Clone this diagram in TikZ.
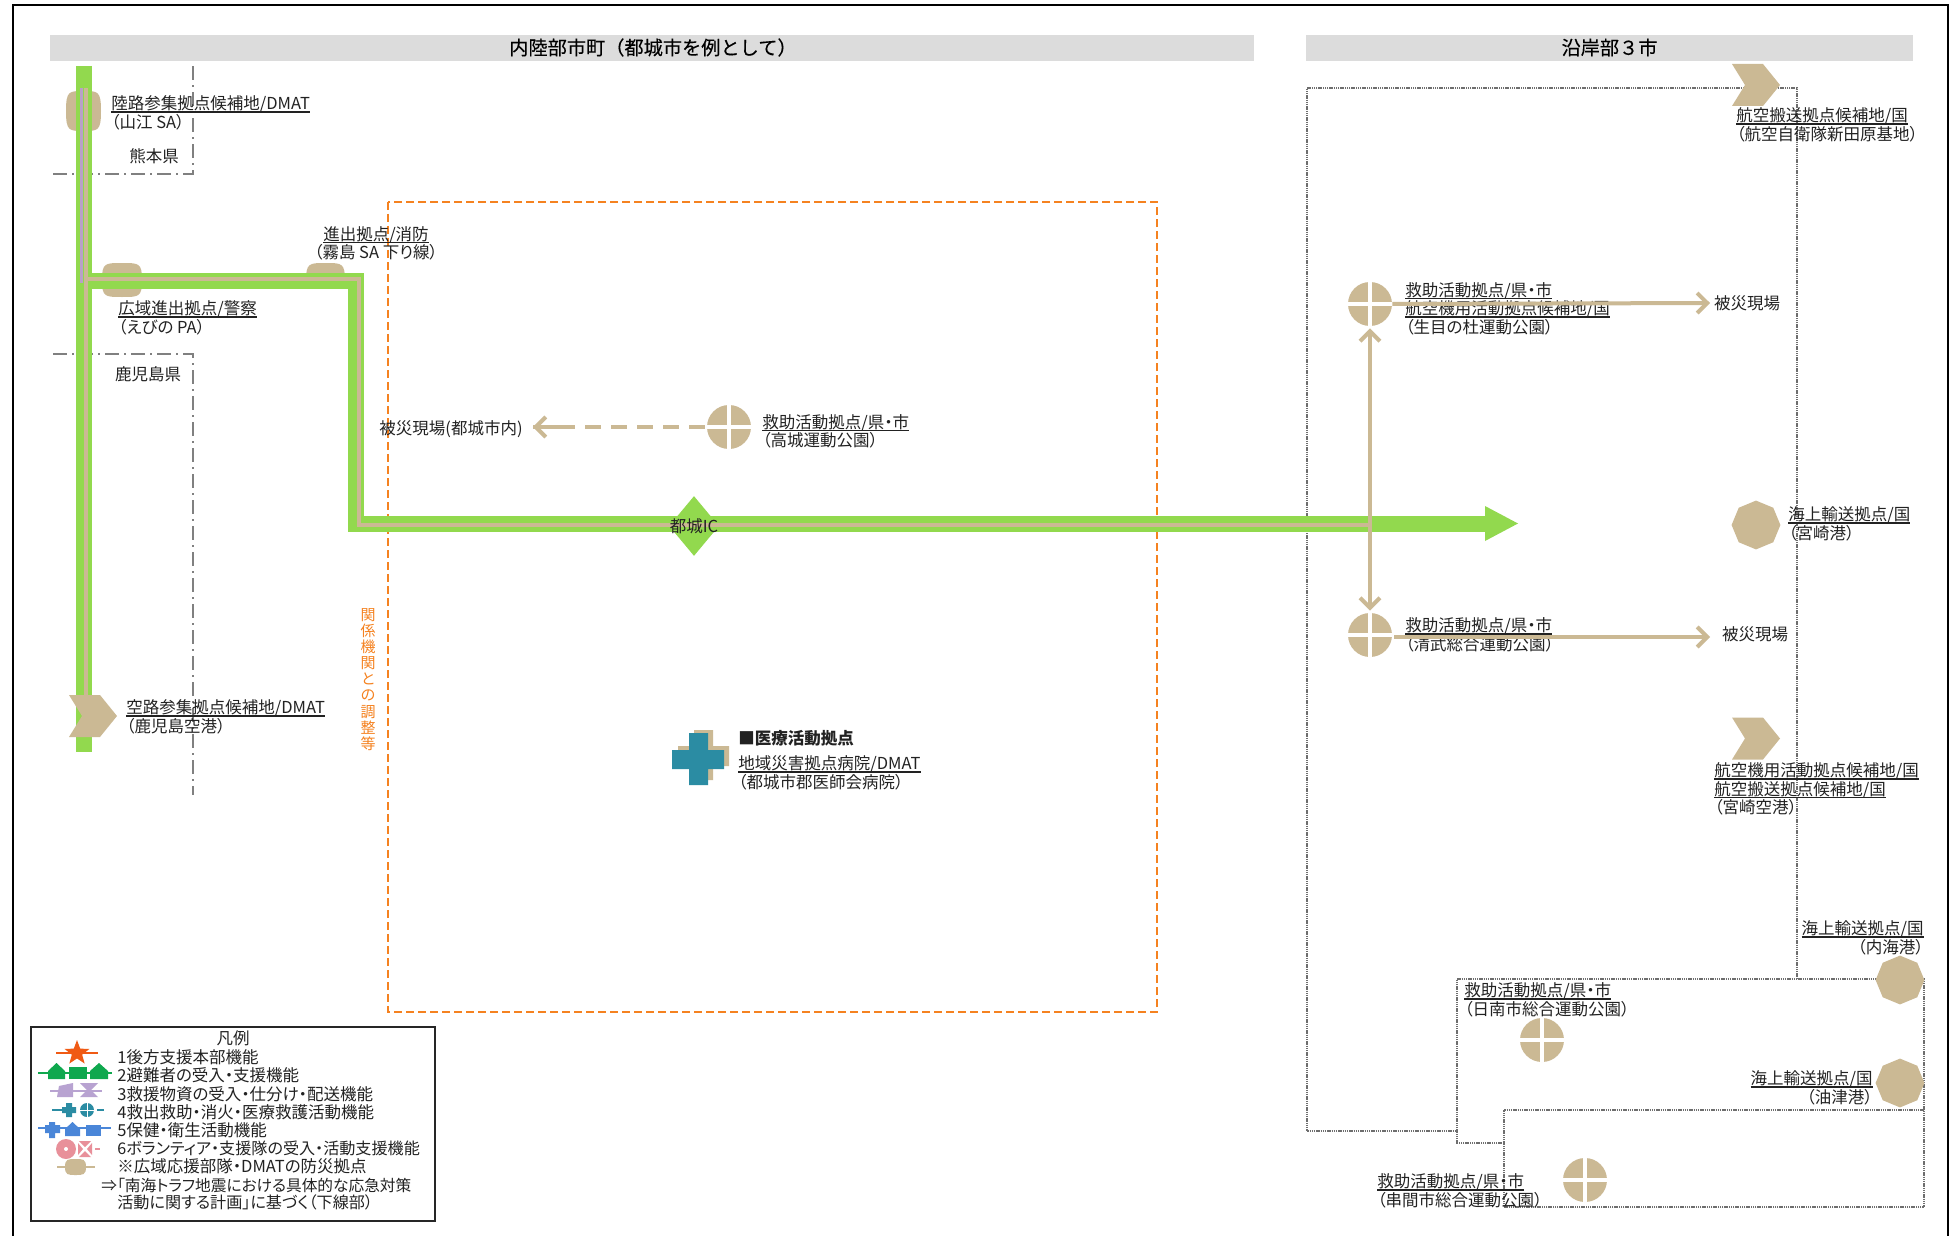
\documentclass[tikz,border=0pt]{standalone}
\usepackage{fontspec}
\setmainfont[RawFeature=+palt]{Noto Sans CJK JP}
\newfontfamily\headf[FakeBold=0.2]{Noto Sans CJK JP}
\usetikzlibrary{arrows.meta,shapes.geometric}
\definecolor{tanc}{HTML}{CBB994}
\definecolor{roadg}{HTML}{92D94E}
\definecolor{purp}{HTML}{B8A0C8}
\definecolor{bargray}{HTML}{DCDCDC}
\definecolor{orangeb}{HTML}{F58220}
\definecolor{linegray}{HTML}{808080}
\definecolor{dotgray}{HTML}{6E6E6E}
\definecolor{txt}{HTML}{222222}
\definecolor{tealc}{HTML}{2B8CA3}
\definecolor{greenl}{HTML}{0FA84E}
\definecolor{purpl}{HTML}{B8A3D1}
\definecolor{bluel}{HTML}{4A86D8}
\definecolor{pinkl}{HTML}{E8909A}
\definecolor{oranl}{HTML}{F05A14}
\newcommand\ulx[1]{\setbox0\hbox{#1}\leavevmode\rlap{\rule[-1.5pt]{\wd0}{0.75pt}}\box0}
\newcommand\labfont{\fontsize{8.25}{9.25}\selectfont\color{txt}}
\newcommand\chev[2]{\fill[tanc] (#1-24,#2-21) -- (#1+7,#2-21) -- (#1+24,#2) -- (#1+7,#2+21) -- (#1-24,#2+21) -- (#1-11,#2) -- cycle;}
\newcommand\caps[4]{\fill[tanc] (#1,#2/2+#4/2) .. controls (#1,#2) and (#1+3,#2) .. (#1/2+#3/2,#2) .. controls (#3-3,#2) and (#3,#2) .. (#3,#2/2+#4/2) .. controls (#3,#4) and (#3-3,#4) .. (#1/2+#3/2,#4) .. controls (#1+3,#4) and (#1,#4) .. cycle;}
\tikzset{
  x=0.5pt,y=-0.5pt,
  lab/.style={inner sep=0pt,align=left,anchor=west,font=\labfont},
  labr/.style={inner sep=0pt,align=right,anchor=east,font=\labfont},
  plain/.style={inner sep=0pt,font=\labfont},
  legt/.style={inner sep=0pt,anchor=west,font=\fontsize{8.25}{9}\selectfont\color{txt}},
  head/.style={inner sep=0pt,font=\headf\fontsize{9.6}{11}\selectfont\color{black}},
  crossc/.style={circle,fill=tanc,draw=none,minimum size=22pt,inner sep=0pt,
    path picture={\draw[white,line width=2pt]
      (path picture bounding box.north)--(path picture bounding box.south)
      (path picture bounding box.west)--(path picture bounding box.east);}},
  octa/.style={regular polygon,regular polygon sides=8,shape border rotate=22.5,fill=tanc,minimum size=24.4pt,inner sep=0pt},
  road/.style={draw=roadg,line width=8pt,line join=miter},
  tanline/.style={draw=tanc,line width=2pt,line join=miter},
  barb/.style={draw=tanc,line width=2pt,-{Straight Barb[length=5pt,width=10pt,line width=2pt]}},
  barbb/.style={draw=tanc,line width=2pt,{Straight Barb[length=5pt,width=10pt,line width=2pt]}-{Straight Barb[length=5pt,width=10pt,line width=2pt]}},
  bound/.style={draw=linegray,line width=.8pt,dash pattern=on 7pt off 2.5pt on 1pt off 2.5pt},
  dotl/.style={draw=dotgray,line width=1pt,dash pattern=on .7pt off .4pt},
}
\begin{document}
\begin{tikzpicture}
\useasboundingbox (0,0) rectangle (1951,1236);
\fill[white] (0,0) rectangle (1951,1236);
% frame
\draw[black,line width=.8pt] (13,1236) -- (13,5) -- (1948,5) -- (1948,1236);
% headers
\fill[bargray] (50,35) rectangle (1254,61.5);
\fill[bargray] (1306,35) rectangle (1913,61.5);
\node[head] (h1) at (653,47.5) {内陸部市町（都城市を例として）};
\node[head] (h2) at (1609.5,47.5) {沿岸部３市};
% prefecture boundaries
\draw[bound] (53,174) -- (193,174) -- (193,66);
\draw[bound] (53,354) -- (193,354) -- (193,795);
% orange box
\draw[orangeb,line width=1pt,dash pattern=on 4pt off 2pt] (388,202) rectangle (1157,1012);
\node[inner sep=0pt,align=center,font=\fontsize{7.5}{8.05}\selectfont\color{orangeb}] (orangetxt) at (368,679.5) {関\\係\\機\\関\\と\\の\\調\\整\\等};
% dotted coastal outlines
\draw[dotl] (1797,979) -- (1797,88) -- (1307,88) -- (1307,1131) -- (1457,1131);
\draw[dotl] (1504,1143) -- (1457,1143) -- (1457,979) -- (1924,979) -- (1924,1207) -- (1504,1207) -- (1504,1110) -- (1924,1110);
% capsules
\caps{66}{91}{101}{131}
\caps{102}{263}{142}{297}
\fill[tanc] (306,281) .. controls (306,263) and (309,263) .. (325.5,263) .. controls (342,263) and (345,263) .. (345,281) -- cycle;
% road coordinates
\coordinate (rtop) at (83.5,66);
\coordinate (rbot) at (83.5,752);
\coordinate (bjoin) at (76,281);
\coordinate (bend1) at (356,281);
\coordinate (bend2) at (356,524);
\coordinate (rend) at (1486,524);
% road
\draw[road] (rtop) -- (rbot);
\draw[road] (bjoin) -- (bend1) -- (bend2) -- (rend);
\fill[roadg] (1485,506) -- (1518,523.5) -- (1485,541) -- cycle;
\node[diamond,fill=roadg,minimum width=25pt,minimum height=30pt,inner sep=0pt,aspect=.83] (ic) at (694,526) {};
% tan and purple centre lines
\coordinate (t1) at (85.5,88);
\coordinate (t2) at (85.5,700);
\coordinate (t3) at (85.5,278.5);
\coordinate (t4) at (359,278.5);
\coordinate (t5) at (359,525);
\coordinate (t6) at (1370,525);
\draw[tanline] (t1) -- (t2);
\draw[tanline] (t3) -- (t4) -- (t5) -- (t6);
\draw[draw=purp,line width=1.75pt] (81.7,88) -- (81.7,283);
% IC label
\node[plain] (iclab) at (694,526) {都城IC};
% chevrons
\chev{93}{716}
\chev{1756}{85}
\chev{1756}{738.5}
% left labels
\node[lab] (l1) at (111,113) {\ulx{陸路参集拠点候補地/DMAT}\\（山江 SA）};
\node[plain] (kuma) at (154,156) {熊本県};
\node[inner sep=0pt,align=center,font=\labfont] (l2) at (376,243.5) {\ulx{進出拠点/消防}\\（霧島 SA 下り線）};
\node[lab] (l3) at (118,318) {\ulx{広域進出拠点/警察}\\（えびの PA）};
\node[plain] (kago) at (148,374) {鹿児島県};
\node[lab] (l4) at (126,717) {\ulx{空路参集拠点候補地/DMAT}\\（鹿児島空港）};
% Takajo
\node[crossc] (c1) at (729,427) {};
\node[lab] (l5) at (762,431.5) {\ulx{救助活動拠点/県・市}\\（高城運動公園）};
\node[plain] (s1) at (451,429) {被災現場(都城市内)};
\coordinate (s1a) at ([xshift=5pt]s1.east |- c1.west);
\coordinate (s1b) at ([xshift=21pt]s1.east |- c1.west);
\draw[draw=tanc,line width=2pt,dash pattern=on 8pt off 5pt,shorten <=1pt] (c1.west) -- (s1a);
\draw[draw=tanc,line width=2pt,-{Straight Barb[length=5pt,width=10pt,line width=2pt]}] (s1b) -- (s1a);
% medical
\fill[tanc] (694,730) -- (713,730) -- (713,746) -- (729,746) -- (729,766) -- (713,766) -- (713,780) -- (694,780) -- (694,766) -- (678,766) -- (678,746) -- (694,746) -- cycle;
\fill[tealc] (689,733) -- (708,733) -- (708,750) -- (724,750) -- (724,769) -- (708,769) -- (708,785) -- (689,785) -- (689,769) -- (672,769) -- (672,750) -- (689,750) -- cycle;
\node[lab,font=\fontsize{8.25}{9.25}\selectfont\bfseries\color{txt}] (m0) at (738,738) {■医療活動拠点};
\node[lab] (m1) at (738,773) {\ulx{地域災害拠点病院/DMAT}\\（都城市郡医師会病院）};
% coast nodes
\node[crossc] (c2) at (1370,304) {};
\node[crossc] (c3) at (1370,635) {};
\node[lab] (l6) at (1405,308.5) {\ulx{救助活動拠点/県・市}\\\ulx{航空機用活動拠点候補地/国}\\（生目の杜運動公園）};
\node[lab] (l7) at (1405,635) {\ulx{救助活動拠点/県・市}\\（清武総合運動公園）};
\node[plain] (s2) at (1747,303) {被災現場};
\node[plain] (s3) at (1755,634) {被災現場};
\coordinate (a2) at (1710,303);
\coordinate (a3) at (1710,637);
\coordinate (b3) at (1394,637);
\draw[barb] (c2.east) -- (a2);
\draw[barb] (b3) -- (a3);
\draw[barbb] ([yshift=-1pt]c2.south) -- ([yshift=1pt]c3.north);
\node[lab] (l8) at (1736,125) {\ulx{航空搬送拠点候補地/国}\\（航空自衛隊新田原基地）};
\node[octa] (o1) at (1756,525) {};
\node[lab] (l9) at (1788,524) {\ulx{海上輸送拠点/国}\\（宮崎港）};
\node[lab] (l10) at (1714,789) {\ulx{航空機用活動拠点候補地/国}\\\ulx{航空搬送拠点候補地/国}\\（宮崎空港）};
\node[labr] (l11) at (1924,938) {\ulx{海上輸送拠点/国}\\（内海港）};
\node[octa] (o2) at (1900,980) {};
\node[lab] (l12) at (1464,1000) {\ulx{救助活動拠点/県・市}\\（日南市総合運動公園）};
\node[crossc] (c4) at (1542,1040) {};
\node[labr] (l13) at (1873,1088) {\ulx{海上輸送拠点/国}\\（油津港）};
\node[octa] (o3) at (1900,1083) {};
\node[lab] (l14) at (1377,1191) {\ulx{救助活動拠点/県・市}\\（串間市総合運動公園）};
\node[crossc] (c5) at (1585,1180) {};
% legend
\draw[draw=black!85,line width=1pt,fill=white] (31,1027) rectangle (435,1221);
\node[legt,anchor=center] (lg0) at (233,1038) {凡例};
\node[legt] (lg1) at (117,1057) {1後方支援本部機能};
\node[legt] (lg2) at (117,1075) {2避難者の受入・支援機能};
\node[legt] (lg3) at (117,1094) {3救援物資の受入・仕分け・配送機能};
\node[legt] (lg4) at (117,1112) {4救出救助・消火・医療救護活動機能};
\node[legt] (lg5) at (117,1130) {5保健・衛生活動機能};
\node[legt,font=\fontsize{8.05}{9}\selectfont\color{txt}] (lg6) at (117,1148) {6ボランティア・支援隊の受入・活動支援機能};
\node[legt] (lg7) at (117,1166) {※広域応援部隊・DMATの防災拠点};
\node[legt,font=\fontsize{7.85}{9}\selectfont\color{txt}] (lg8) at (101,1185) {⇒「南海トラフ地震における具体的な応急対策};
\node[legt,font=\fontsize{8.05}{9}\selectfont\color{txt}] (lg9) at (117,1202) {活動に関する計画」に基づく（下線部）};
% legend icons
\draw[oranl,line width=1pt] (56,1053) -- (98,1053);
\node[star,star points=5,star point ratio=2.4,fill=oranl,minimum size=13pt,inner sep=0pt] (ic1) at (77,1053) {};
\draw[greenl,line width=1pt] (38,1073) -- (112,1073);
\fill[greenl] (48,1071) -- (56.5,1063) -- (65,1071) -- (65,1079) -- (48,1079) -- cycle;
\fill[greenl] (69,1067) rectangle (87,1079);
\fill[greenl] (90,1071) -- (99,1063) -- (108,1071) -- (108,1079) -- (90,1079) -- cycle;
\draw[purpl,line width=1pt] (50,1091) -- (102,1091);
\fill[purpl] (59,1086) -- (73,1083) -- (73,1097) -- (57,1097) -- cycle;
\fill[purpl] (80,1083) -- (98,1083) -- (91,1090) -- (98,1097) -- (80,1097) -- (87,1090) -- cycle;
\draw[tealc,line width=1pt] (52,1110) -- (62,1110);
\draw[tealc,line width=1pt] (97,1110) -- (104,1110);
\fill[tealc] (66,1103) -- (72,1103) -- (72,1107) -- (76,1107) -- (76,1113) -- (72,1113) -- (72,1117) -- (66,1117) -- (66,1113) -- (62,1113) -- (62,1107) -- (66,1107) -- cycle;
\fill[tealc] (87,1110) circle[radius=3.5pt];
\draw[white,line width=.5pt] (87,1102) -- (87,1118) (79,1110) -- (95,1110);
\draw[bluel,line width=1pt] (38,1128) -- (111,1128);
\fill[bluel] (49,1122) -- (55,1122) -- (55,1125) -- (60,1125) -- (60,1133) -- (55,1133) -- (55,1138) -- (49,1138) -- (49,1133) -- (45,1133) -- (45,1125) -- (49,1125) -- cycle;
\fill[bluel] (65,1129) -- (72.5,1122) -- (80,1129) -- (80,1136) -- (65,1136) -- cycle;
\fill[bluel] (86,1125) rectangle (101,1136);
\fill[pinkl] (66,1149) circle[radius=5pt];
\fill[white] (66,1149) circle[radius=1pt];
\fill[pinkl] (79,1141) -- (91,1141) -- (85,1147) -- cycle;
\fill[pinkl] (79,1157) -- (91,1157) -- (85,1151) -- cycle;
\fill[pinkl] (78,1143) -- (78,1155) -- (83,1149) -- cycle;
\fill[pinkl] (92,1143) -- (92,1155) -- (87,1149) -- cycle;
\draw[pinkl,line width=1pt] (95,1149) -- (100,1149);
\draw[tanc,line width=1pt] (57,1167) -- (95,1167);
\caps{65}{1159}{86}{1175}
\end{tikzpicture}
\end{document}
